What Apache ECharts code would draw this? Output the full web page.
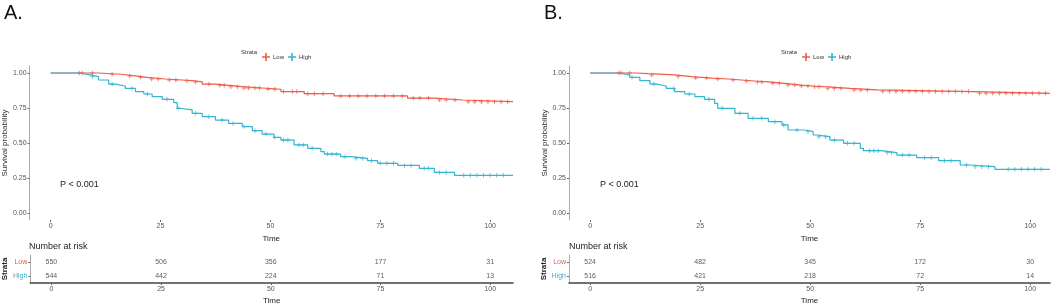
<!DOCTYPE html>
<html>
<head>
<meta charset="utf-8">
<script src="https://cdn.jsdelivr.net/npm/echarts@6/dist/echarts.min.js"></script>
<style>
  html, body { margin: 0; padding: 0; background: #fff; }
  #chart { width: 1056px; height: 306px; }
</style>
</head>
<body>
<div id="chart"></div>
<script>
// survival curves (step points: time, survival)
const timeA_low = [0, 10.9, 15.9, 19.3, 21.9, 26.1, 29.9, 32.2, 34.5, 37.5, 40.5, 43.6, 48.1, 52.4, 57.7, 64.5, 81.2, 87.2, 93.8, 105.2]
const survA_low = [1, 0.991, 0.979, 0.969, 0.957, 0.95, 0.945, 0.936, 0.921, 0.912, 0.902, 0.893, 0.884, 0.867, 0.852, 0.836, 0.821, 0.807, 0.795, 0.795]
const timeA_high = [0, 6.4, 9, 10.9, 13.2, 14.7, 17, 19.3, 21.2, 23.1, 25.4, 28, 28.8, 29.5, 32.2, 34.5, 37.5, 40.5, 43.6, 45.9, 48.1, 50.8, 52.4, 55.4, 58.5, 61.5, 62.3, 66, 68.3, 72.1, 74.4, 79, 83.9, 87.3, 91.9, 105.2]
const survA_high = [1, 0.986, 0.974, 0.95, 0.921, 0.907, 0.89, 0.867, 0.85, 0.831, 0.812, 0.788, 0.748, 0.736, 0.712, 0.688, 0.664, 0.64, 0.617, 0.588, 0.564, 0.54, 0.521, 0.486, 0.462, 0.438, 0.421, 0.402, 0.39, 0.374, 0.355, 0.34, 0.319, 0.29, 0.269, 0.269]
const timeB_low = [0, 10.2, 13.2, 19.2, 23, 27.6, 31.4, 34.4, 37.4, 40.5, 44.2, 48, 50.7, 53, 59.1, 65.2, 87.1, 104.5]
const survB_low = [1, 0.995, 0.986, 0.974, 0.964, 0.957, 0.95, 0.943, 0.936, 0.926, 0.914, 0.907, 0.902, 0.89, 0.879, 0.867, 0.855, 0.855]
const timeB_high = [0, 6.4, 9, 11.3, 13.6, 15.1, 17.3, 19.2, 21.5, 23.8, 26, 28.3, 29, 32.9, 35.9, 40.5, 43.6, 45, 48.8, 50.7, 51.5, 54.5, 57.6, 61.4, 62.1, 66, 69.7, 74.2, 79.2, 84.1, 86.4, 92, 104.5]
const survB_high = [1, 0.986, 0.969, 0.945, 0.921, 0.907, 0.89, 0.867, 0.85, 0.831, 0.812, 0.783, 0.748, 0.712, 0.676, 0.652, 0.629, 0.593, 0.581, 0.557, 0.545, 0.521, 0.498, 0.462, 0.445, 0.431, 0.414, 0.395, 0.374, 0.343, 0.331, 0.312, 0.312]

// censored times
const censA_low = [6.5, 7.2, 9.5, 14, 18, 20.5, 23, 24.5, 27, 28.5, 31, 33, 36, 38.5, 39.5, 41, 42.5, 44, 45, 46.5, 47.5, 49.5, 51, 53, 55, 56, 58.5, 60, 62, 66, 68, 70, 72, 74, 76, 78, 80, 82.5, 84, 86, 88.5, 90, 92, 95, 96.5, 98, 99.5, 101, 102.5, 104]
const censA_high = [9.5, 14, 18.5, 22, 26.5, 29, 33, 36, 39, 41.5, 44, 46.5, 49, 51, 53, 54, 56.5, 57.5, 59.5, 63, 64, 65, 67, 69.5, 71, 73, 75, 76.5, 78, 80.5, 82, 85, 86, 88.5, 90, 94, 95.5, 97, 98.5, 100, 101.5, 103]
const censB_low = [6.5, 7, 9, 14, 20, 24, 26.5, 29, 32.5, 35.5, 38, 39, 41.5, 43, 45, 46.5, 48, 49.5, 51, 52, 54, 55.5, 57, 60, 61.5, 63, 66.5, 68, 69.5, 71, 72.5, 74, 75.5, 77, 78.5, 80, 81.5, 83, 84.5, 86, 88.5, 90, 91.5, 93, 94.5, 96, 97.5, 99, 100.5, 102, 103.5]
const censB_high = [9.5, 14.5, 19, 22.5, 27, 30, 34, 37, 39, 42, 44, 47, 49.5, 52, 53.5, 55.5, 58.5, 60, 63.5, 64.5, 65.5, 67.5, 68.5, 71, 72.5, 76, 77.5, 80.5, 82, 85.5, 87.5, 89, 90.5, 95, 96.5, 98, 99.5, 101, 102.5]

// number at risk
const riskTimes = [0, 25, 50, 75, 100]
const riskA_low = [550, 506, 356, 177, 31]
const riskA_high = [544, 442, 224, 71, 13]
const riskB_low = [524, 482, 345, 172, 30]
const riskB_high = [516, 421, 218, 72, 14]

const xTicks = [0, 25, 50, 75, 100]
const yTicks = [0, 0.25, 0.5, 0.75, 1]

const RED = '#EE5B4A'
const CYAN = '#35B5CF'
const CROSS = 'path://M4,0h2v4h4v2h-4v4h-2v-4h-4v-2h4z'

function zipSteps (t, s) {
  return t.map((v, i) => [v, s[i]])
}
function censorPts (times, t, s) {
  return times.map(c => {
    let k = 0
    for (let i = 0; i < t.length; i++) if (t[i] <= c) k = i
    return [c, s[k]]
  })
}

const panels = [
  { left: 29, width: 484, xMin: -4.8, xMax: 105.2, low: [timeA_low, survA_low, censA_low], high: [timeA_high, survA_high, censA_high], risk: [riskA_low, riskA_high], tag: 'A.' },
  { left: 569, width: 481, xMin: -4.8, xMax: 104.5, low: [timeB_low, survB_low, censB_low], high: [timeB_high, survB_high, censB_high], risk: [riskB_low, riskB_high], tag: 'B.' }
]

const grid = []
const xAxis = []
const yAxis = []
const series = []
const legend = []
const graphic = []

panels.forEach((p, k) => {
  const gMain = k * 2
  const gRisk = k * 2 + 1
  grid.push({ left: p.left, width: p.width, top: 66, height: 154 })
  grid.push({ left: p.left, width: p.width, top: 255, height: 30 })

  const xCommon = {
    type: 'value', min: p.xMin, max: p.xMax,
    splitLine: { show: false },
    axisTick: { show: true, length: 2, customValues: xTicks, lineStyle: { color: '#666' } },
    axisLabel: { customValues: xTicks, fontSize: 7, color: '#555', margin: 3, fontFamily: 'Liberation Sans' },
    name: 'Time', nameLocation: 'middle', nameGap: 14,
    nameTextStyle: { fontSize: 8, color: '#222', fontFamily: 'Liberation Sans' }
  }
  xAxis.push(Object.assign({ gridIndex: gMain, axisLine: { show: false, onZero: false } }, xCommon))
  xAxis.push(Object.assign({ gridIndex: gRisk, axisLine: { show: true, onZero: false, lineStyle: { color: '#444', width: 1.5 } } }, xCommon))

  yAxis.push({
    gridIndex: gMain, type: 'value', min: -0.05, max: 1.05,
    splitLine: { show: false },
    axisLine: { show: true, onZero: false, lineStyle: { color: '#aaa' } },
    axisTick: { show: true, length: 2, customValues: yTicks, lineStyle: { color: '#666' } },
    axisLabel: { customValues: yTicks, fontSize: 7, color: '#555', margin: 3, formatter: v => v.toFixed(2), fontFamily: 'Liberation Sans' },
    name: 'Survival probability', nameLocation: 'middle', nameGap: 19,
    nameTextStyle: { fontSize: 8, color: '#333', fontFamily: 'Liberation Sans' }
  })
  yAxis.push({
    gridIndex: gRisk, type: 'category', data: ['High', 'Low'],
    axisLine: { show: true, onZero: false, lineStyle: { color: '#aaa' } },
    axisTick: { show: true, length: 2, lineStyle: { color: '#666' }, alignWithLabel: true },
    axisLabel: { fontSize: 7, margin: 3, color: (v) => v === 'Low' ? RED : CYAN, fontFamily: 'Liberation Sans' },
    name: 'Strata', nameLocation: 'middle', nameGap: 18,
    nameTextStyle: { fontSize: 8, color: '#222', fontWeight: 'bold', fontFamily: 'Liberation Sans' }
  })

  const groups = [['Low', p.low, RED], ['High', p.high, CYAN]]
  groups.forEach(([name, d, col]) => {
    series.push({
      name, type: 'line', step: 'end', xAxisIndex: gMain, yAxisIndex: gMain,
      data: zipSteps(d[0], d[1]), showSymbol: false, symbol: CROSS,
      lineStyle: { color: col, width: 1.2 }, itemStyle: { color: col }, silent: true
    })
    series.push({
      name, type: 'scatter', xAxisIndex: gMain, yAxisIndex: gMain,
      data: censorPts(d[2], d[0], d[1]), symbol: CROSS, symbolSize: 4.5,
      itemStyle: { color: col }, silent: true
    })
  })

  series.push({
    type: 'scatter', xAxisIndex: gRisk, yAxisIndex: gRisk, symbolSize: 1,
    itemStyle: { color: 'transparent' }, silent: true,
    data: riskTimes.map((t, i) => [t, 'Low', p.risk[0][i]]).concat(riskTimes.map((t, i) => [t, 'High', p.risk[1][i]])),
    label: { show: true, position: 'inside', formatter: q => q.value[2], fontSize: 7, color: '#333', fontFamily: 'Liberation Sans' }
  })

  legend.push({
    data: ['Low', 'High'], left: p.left + 228, top: 48, itemWidth: 8, itemHeight: 8, itemGap: 4,
    icon: CROSS, textStyle: { fontSize: 6, color: '#333', padding: [0, 0, 0, -2] }, selectedMode: false
  })

  graphic.push({ type: 'text', left: p.left - 25, top: 3, style: { text: p.tag, fontSize: 20, fill: '#111', fontFamily: 'Liberation Sans' } })
  graphic.push({ type: 'text', left: p.left + 212, top: 49, style: { text: 'Strata', fontSize: 6, fill: '#333', fontFamily: 'Liberation Sans' } })
  graphic.push({ type: 'text', left: p.left + 31, top: 180, style: { text: 'P < 0.001', fontSize: 9, fill: '#222', fontFamily: 'Liberation Sans' } })
  graphic.push({ type: 'text', left: p.left, top: 242, style: { text: 'Number at risk', fontSize: 9, fill: '#222', fontFamily: 'Liberation Sans' } })
})

const chart = echarts.init(document.getElementById('chart'))
chart.setOption({
  animation: false,
  grid, xAxis, yAxis, series, legend, graphic
})
</script>
</body>
</html>
